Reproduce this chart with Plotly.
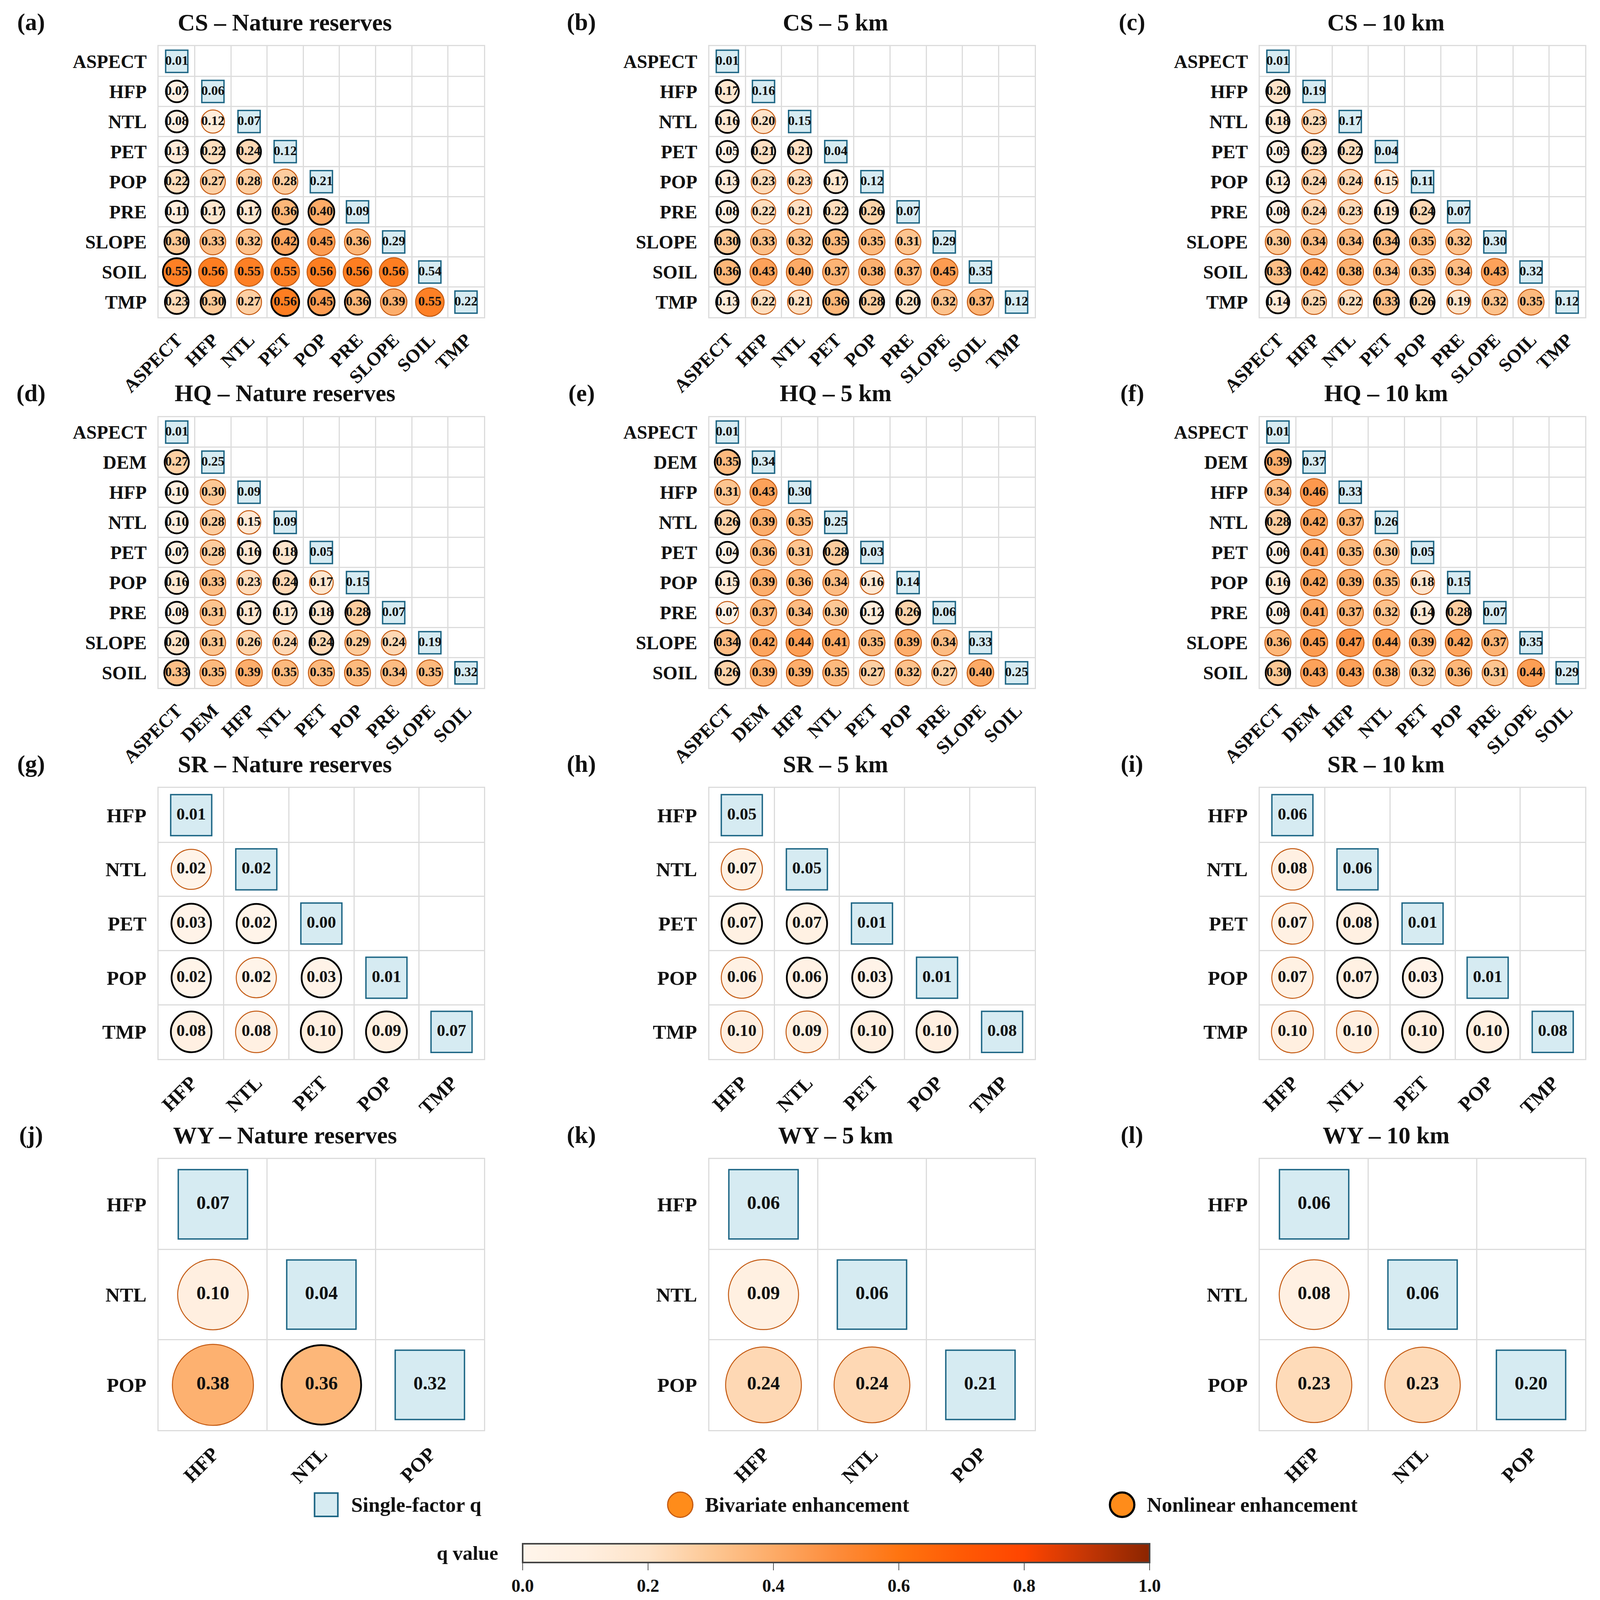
import math
import plotly.graph_objects as go

# layout is designed on the 4119 x 4948 reference and expressed as paper fractions;
# the figure itself fills the browser window (autosize)
W, H = 4119, 4948
RW, RH = 4103, 4103          # expected rendered size of the plot div (px)
SX, SY = RW / W, RH / H
SXY = math.sqrt(SX * SY)
FONT = "Liberation Serif"

# ---------------- data (q values) ----------------
CS_FACTORS = ["ASPECT", "HFP", "NTL", "PET", "POP", "PRE", "SLOPE", "SOIL", "TMP"]
HQ_FACTORS = ["ASPECT", "DEM", "HFP", "NTL", "PET", "POP", "PRE", "SLOPE", "SOIL"]
SR_FACTORS = ["HFP", "NTL", "PET", "POP", "TMP"]
WY_FACTORS = ["HFP", "NTL", "POP"]

# single-factor q (diagonal); pair q (lower triangle rows); type N = nonlinear, B = bivariate
CS_NR_SINGLE = [0.01, 0.06, 0.07, 0.12, 0.21, 0.09, 0.29, 0.54, 0.22]
CS_NR_PAIR = [
    [0.07],
    [0.08, 0.12],
    [0.13, 0.22, 0.24],
    [0.22, 0.27, 0.28, 0.28],
    [0.11, 0.17, 0.17, 0.36, 0.40],
    [0.30, 0.33, 0.32, 0.42, 0.45, 0.36],
    [0.55, 0.56, 0.55, 0.55, 0.56, 0.56, 0.56],
    [0.23, 0.30, 0.27, 0.56, 0.45, 0.36, 0.39, 0.55],
]
CS_NR_TYPE = ["N", "NB", "NNN", "NBBB", "NNNNN", "NBBNBB", "NBBBBBB", "NNBNNNBB"]

CS_5_SINGLE = [0.01, 0.16, 0.15, 0.04, 0.12, 0.07, 0.29, 0.35, 0.12]
CS_5_PAIR = [
    [0.17],
    [0.16, 0.20],
    [0.05, 0.21, 0.21],
    [0.13, 0.23, 0.23, 0.17],
    [0.08, 0.22, 0.21, 0.22, 0.26],
    [0.30, 0.33, 0.32, 0.35, 0.35, 0.31],
    [0.36, 0.43, 0.40, 0.37, 0.38, 0.37, 0.45],
    [0.13, 0.22, 0.21, 0.36, 0.28, 0.20, 0.32, 0.37],
]
CS_5_TYPE = ["N", "NB", "NNN", "NBBN", "NBBNN", "NBBNBB", "NBBBBBB", "NBBNNNBB"]

CS_10_SINGLE = [0.01, 0.19, 0.17, 0.04, 0.11, 0.07, 0.30, 0.32, 0.12]
CS_10_PAIR = [
    [0.20],
    [0.18, 0.23],
    [0.05, 0.23, 0.22],
    [0.12, 0.24, 0.24, 0.15],
    [0.08, 0.24, 0.23, 0.19, 0.24],
    [0.30, 0.34, 0.34, 0.34, 0.35, 0.32],
    [0.33, 0.42, 0.38, 0.34, 0.35, 0.34, 0.43],
    [0.14, 0.25, 0.22, 0.33, 0.26, 0.19, 0.32, 0.35],
]
CS_10_TYPE = ["N", "NB", "NNN", "NBBB", "NBBNN", "BBBNBB", "NBBBBBB", "NBBNNBBB"]

HQ_NR_SINGLE = [0.01, 0.25, 0.09, 0.09, 0.05, 0.15, 0.07, 0.19, 0.32]
HQ_NR_PAIR = [
    [0.27],
    [0.10, 0.30],
    [0.10, 0.28, 0.15],
    [0.07, 0.28, 0.16, 0.18],
    [0.16, 0.33, 0.23, 0.24, 0.17],
    [0.08, 0.31, 0.17, 0.17, 0.18, 0.28],
    [0.20, 0.31, 0.26, 0.24, 0.24, 0.29, 0.24],
    [0.33, 0.35, 0.39, 0.35, 0.35, 0.35, 0.34, 0.35],
]
HQ_NR_TYPE = ["N", "NB", "NBB", "NBNN", "NBBNB", "NBNNNN", "NBBBNBB", "NBBBBBBB"]

HQ_5_SINGLE = [0.01, 0.34, 0.30, 0.25, 0.03, 0.14, 0.06, 0.33, 0.25]
HQ_5_PAIR = [
    [0.35],
    [0.31, 0.43],
    [0.26, 0.39, 0.35],
    [0.04, 0.36, 0.31, 0.28],
    [0.15, 0.39, 0.36, 0.34, 0.16],
    [0.07, 0.37, 0.34, 0.30, 0.12, 0.26],
    [0.34, 0.42, 0.44, 0.41, 0.35, 0.39, 0.34],
    [0.26, 0.39, 0.39, 0.35, 0.27, 0.32, 0.27, 0.40],
]
HQ_5_TYPE = ["N", "BB", "NBB", "NBBN", "NBBBB", "BBBBNN", "NBBBBBB", "NBBBBBBB"]

HQ_10_SINGLE = [0.01, 0.37, 0.33, 0.26, 0.05, 0.15, 0.07, 0.35, 0.29]
HQ_10_PAIR = [
    [0.39],
    [0.34, 0.46],
    [0.28, 0.42, 0.37],
    [0.06, 0.41, 0.35, 0.30],
    [0.16, 0.42, 0.39, 0.35, 0.18],
    [0.08, 0.41, 0.37, 0.32, 0.14, 0.28],
    [0.36, 0.45, 0.47, 0.44, 0.39, 0.42, 0.37],
    [0.30, 0.43, 0.43, 0.38, 0.32, 0.36, 0.31, 0.44],
]
HQ_10_TYPE = ["N", "BB", "NBB", "NBBB", "NBBBB", "NBBBNN", "BBBBBBB", "NBBBBBBB"]

SR_NR_SINGLE = [0.01, 0.02, 0.00, 0.01, 0.07]
SR_NR_PAIR = [[0.02], [0.03, 0.02], [0.02, 0.02, 0.03], [0.08, 0.08, 0.10, 0.09]]
SR_NR_TYPE = ["B", "NN", "NBN", "NBNN"]

SR_5_SINGLE = [0.05, 0.05, 0.01, 0.01, 0.08]
SR_5_PAIR = [[0.07], [0.07, 0.07], [0.06, 0.06, 0.03], [0.10, 0.09, 0.10, 0.10]]
SR_5_TYPE = ["B", "NN", "BNN", "BBNN"]

SR_10_SINGLE = [0.06, 0.06, 0.01, 0.01, 0.08]
SR_10_PAIR = [[0.08], [0.07, 0.08], [0.07, 0.07, 0.03], [0.10, 0.10, 0.10, 0.10]]
SR_10_TYPE = ["B", "BN", "BNN", "BBNN"]

WY_NR_SINGLE = [0.07, 0.04, 0.32]
WY_NR_PAIR = [[0.10], [0.38, 0.36]]
WY_NR_TYPE = ["B", "BN"]

WY_5_SINGLE = [0.06, 0.06, 0.21]
WY_5_PAIR = [[0.09], [0.24, 0.24]]
WY_5_TYPE = ["B", "BB"]

WY_10_SINGLE = [0.06, 0.06, 0.20]
WY_10_PAIR = [[0.08], [0.23, 0.23]]
WY_10_TYPE = ["B", "BB"]

PANELS = [
    ("(a)", "CS – Nature reserves", CS_FACTORS, CS_NR_SINGLE, CS_NR_PAIR, CS_NR_TYPE),
    ("(b)", "CS – 5 km", CS_FACTORS, CS_5_SINGLE, CS_5_PAIR, CS_5_TYPE),
    ("(c)", "CS – 10 km", CS_FACTORS, CS_10_SINGLE, CS_10_PAIR, CS_10_TYPE),
    ("(d)", "HQ – Nature reserves", HQ_FACTORS, HQ_NR_SINGLE, HQ_NR_PAIR, HQ_NR_TYPE),
    ("(e)", "HQ – 5 km", HQ_FACTORS, HQ_5_SINGLE, HQ_5_PAIR, HQ_5_TYPE),
    ("(f)", "HQ – 10 km", HQ_FACTORS, HQ_10_SINGLE, HQ_10_PAIR, HQ_10_TYPE),
    ("(g)", "SR – Nature reserves", SR_FACTORS, SR_NR_SINGLE, SR_NR_PAIR, SR_NR_TYPE),
    ("(h)", "SR – 5 km", SR_FACTORS, SR_5_SINGLE, SR_5_PAIR, SR_5_TYPE),
    ("(i)", "SR – 10 km", SR_FACTORS, SR_10_SINGLE, SR_10_PAIR, SR_10_TYPE),
    ("(j)", "WY – Nature reserves", WY_FACTORS, WY_NR_SINGLE, WY_NR_PAIR, WY_NR_TYPE),
    ("(k)", "WY – 5 km", WY_FACTORS, WY_5_SINGLE, WY_5_PAIR, WY_5_TYPE),
    ("(l)", "WY – 10 km", WY_FACTORS, WY_10_SINGLE, WY_10_PAIR, WY_10_TYPE),
]

LEG_LABELS = ["Single-factor q", "Bivariate enhancement", "Nonlinear enhancement"]

# ---------------- styles ----------------
COLORSCALE = [
    [0.0, "#fff5eb"], [0.1, "#ffefe0"], [0.2, "#fee3c8"], [0.3, "#fdc895"],
    [0.4, "#fdab67"], [0.5, "#fd8c3b"], [0.6, "#ff7410"], [0.7, "#ff5a05"],
    [0.8, "#ff4500"], [0.9, "#c43605"], [1.0, "#8b2500"],
]
SQ_FILL = "#d6ebf2"
SQ_LINE = "#1d6685"
BI_LINE = "#c45a12"
NL_LINE = "#000000"
GRID = "#dcdcdc"
INK = "#111111"
FS = 0.95                    # font scale

# panel placement in reference pixels
GRID_LEFT = [402, 1825, 3248]
GRID_TOP = [134, 1285, 2437, 3589]
GRID_SIZE = 841
LEG_X = [835, 1750, 2892]   # legend key centres
LEG_Y = 4662
CB_TOP = 4783               # top edge of the colour bar
CB_Y = 4812                 # its middle (for the "q value" label)

fig = go.Figure()
layout = {}
annotations = []

for k, (tag, title, factors, single, pair, kind) in enumerate(PANELS):
    r, c = divmod(k, 3)
    ax = "" if k == 0 else str(k + 1)
    n = len(factors)
    cell = GRID_SIZE * SXY / n
    val_size = round((36 if n > 5 else (45 if n == 5 else 50)) * FS)
    tick_size = round((50 if n > 5 else 54) * FS)

    # interaction circles
    xs, ys, vs, lc, lw = [], [], [], [], []
    for i, row in enumerate(pair):
        for j, v in enumerate(row):
            xs.append(factors[j])
            ys.append(factors[i + 1])
            vs.append(v)
            nl = kind[i][j] == "N"
            lc.append(NL_LINE if nl else BI_LINE)
            lw.append(4.5 if nl else 2.5)
    sizes = [cell * (0.68 + 0.38 * v) - w for v, w in zip(vs, lw)]

    marker = dict(symbol="circle", size=sizes, color=vs, colorscale=COLORSCALE, opacity=1,
                  cmin=0, cmax=1, line=dict(color=lc, width=lw), showscale=(k == 0))
    if k == 0:
        marker["colorbar"] = dict(
            orientation="h", x=2153 / W, xanchor="center", y=1 - CB_TOP / H, yanchor="top",
            len=1620 / W, lenmode="fraction", thickness=round(58 * SY), thicknessmode="pixels",
            outlinecolor="#444444", outlinewidth=4, ticks="outside", ticklen=18,
            tickwidth=2, tickcolor="#555555", tickvals=[0, 0.2, 0.4, 0.6, 0.8, 1.0],
            tickformat=".1f", xpad=0, ypad=0,
            tickfont=dict(family=FONT, size=round(48 * FS), color=INK, weight="bold"),
        )
    fig.add_trace(go.Scatter(
        x=xs, y=ys, mode="markers+text", text=[f"{v:.2f}" for v in vs],
        textposition="middle center",
        textfont=dict(family=FONT, size=val_size, color=INK, weight="bold"),
        marker=marker, cliponaxis=False, hoverinfo="skip",
        xaxis="x" + ax, yaxis="y" + ax, showlegend=False,
    ))

    # single-factor squares on the diagonal
    fig.add_trace(go.Scatter(
        x=factors, y=factors, mode="markers+text", text=[f"{v:.2f}" for v in single],
        textposition="middle center",
        textfont=dict(family=FONT, size=val_size, color=INK, weight="bold"),
        marker=dict(symbol="square", size=0.71 * cell - 3.5, color=SQ_FILL, opacity=1,
                    line=dict(color=SQ_LINE, width=3.5)),
        cliponaxis=False, hoverinfo="skip",
        xaxis="x" + ax, yaxis="y" + ax, showlegend=False,
    ))

    x0 = GRID_LEFT[c] / W
    x1 = (GRID_LEFT[c] + GRID_SIZE) / W
    y1 = 1 - GRID_TOP[r] / H
    y0 = 1 - (GRID_TOP[r] + GRID_SIZE) / H
    common = dict(
        type="category", categoryorder="array", categoryarray=factors,
        tickson="boundaries", showgrid=True, gridcolor=GRID, gridwidth=3,
        showline=True, mirror=True, linecolor=GRID, linewidth=3, ticks="",
        tickfont=dict(family=FONT, size=tick_size, color=INK, weight="bold"),
        fixedrange=True, automargin=False,
    )
    layout["xaxis" + ax] = dict(common, domain=[x0, x1], anchor="y" + ax,
                                range=[-0.5, n - 0.5], tickangle=-45, ticklabelstandoff=8)
    layout["yaxis" + ax] = dict(common, domain=[y0, y1], anchor="x" + ax,
                                range=[n - 0.5, -0.5], ticklabelstandoff=18)

    ty = 1 - (GRID_TOP[r] - 74) / H
    annotations.append(dict(text=tag, x=(GRID_LEFT[c] - 330) / W, y=ty, xref="paper", yref="paper",
                            xanchor="center", yanchor="middle", showarrow=False,
                            font=dict(family=FONT, size=round(64 * FS), color=INK, weight="bold")))
    annotations.append(dict(text=title, x=(GRID_LEFT[c] + 326) / W, y=ty, xref="paper", yref="paper",
                            xanchor="center", yanchor="middle", showarrow=False,
                            font=dict(family=FONT, size=round(64 * FS), color=INK, weight="bold")))

# ---------------- legend keys (helper axis in reference-pixel units) ----------------
key = 70 * SXY
fig.add_trace(go.Scatter(
    x=[LEG_X[0]], y=[0.5], mode="markers", xaxis="x13", yaxis="y13", showlegend=False,
    marker=dict(symbol="square", size=key - 4, color=SQ_FILL, opacity=1,
                line=dict(color=SQ_LINE, width=4)),
    hoverinfo="skip", cliponaxis=False,
))
fig.add_trace(go.Scatter(
    x=LEG_X[1:], y=[0.5, 0.5], mode="markers", xaxis="x13", yaxis="y13", showlegend=False,
    marker=dict(symbol="circle", size=[key + 1, key - 1], color="#ff8c1a", opacity=1,
                line=dict(color=[BI_LINE, NL_LINE], width=[3, 5.5])),
    hoverinfo="skip", cliponaxis=False,
))
layout["xaxis13"] = dict(domain=[0, 1], range=[0, W], visible=False, anchor="y13",
                         fixedrange=True, automargin=False)
layout["yaxis13"] = dict(domain=[1 - (LEG_Y + 50) / H, 1 - (LEG_Y - 50) / H], range=[0, 1],
                         visible=False, anchor="x13", fixedrange=True, automargin=False)
for lx, lab in zip(LEG_X, LEG_LABELS):
    annotations.append(dict(text=lab, x=(lx + 62) / W, y=1 - LEG_Y / H, xref="paper", yref="paper",
                            xanchor="left", yanchor="middle", showarrow=False,
                            font=dict(family=FONT, size=round(56 * FS), color=INK, weight="bold")))

annotations.append(dict(text="q value", x=1200 / W, y=1 - CB_Y / H, xref="paper", yref="paper",
                        xanchor="center", yanchor="middle", showarrow=False,
                        font=dict(family=FONT, size=round(54 * FS), color=INK, weight="bold")))

fig.update_layout(
    autosize=True, margin=dict(l=0, r=0, t=0, b=0, autoexpand=False),
    paper_bgcolor="white", plot_bgcolor="white", showlegend=False,
    annotations=annotations, **layout,
)

fig.write_html("out.html")
